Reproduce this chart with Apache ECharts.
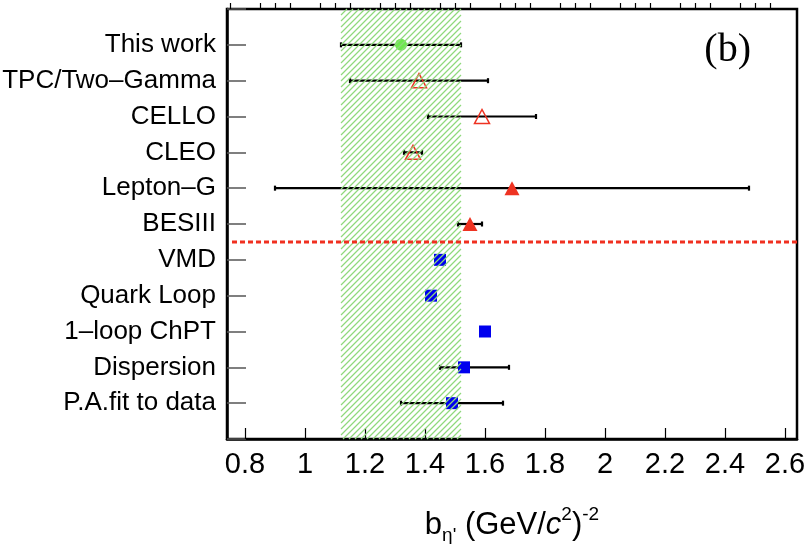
<!DOCTYPE html>
<html>
<head>
<meta charset="utf-8">
<script src="https://cdn.jsdelivr.net/npm/echarts@6/dist/echarts.min.js"></script>
<style>html,body{margin:0;padding:0;background:#fff}#c{width:811px;height:544px}</style>
</head>
<body>
<div id="c"></div>
<script>
// ---- data ----
const categories = ['This work','TPC/Two\u2013Gamma','CELLO','CLEO','Lepton\u2013G','BESIII','VMD','Quark Loop','1\u2013loop ChPT','Dispersion','P.A.fit to data'];
const centralValues = [1.32, 1.38, 1.59, 1.36, 1.69, 1.55, 1.45, 1.42, 1.60, 1.53, 1.49];
const errLow  = [1.12, 1.15, 1.41, 1.33, 0.90, 1.51, null, null, null, 1.45, 1.32];
const errHigh = [1.52, 1.61, 1.77, 1.39, 2.48, 1.59, null, null, null, 1.68, 1.66];
const thisWorkRows = [0];
const openTriangleRows = [1, 2, 3];
const filledTriangleRows = [4, 5];
const theoryRows = [6, 7, 8, 9, 10];
const bandRange = [1.12, 1.52];
const separatorAfterRow = 5; // dashed line between BESIII and VMD
const xMajorTicks = [0.8, 1.0, 1.2, 1.4, 1.6, 1.8, 2.0, 2.2, 2.4, 2.6];
const xMin = 0.74, xMax = 2.64;

// minor ticks (4 subdivisions between majors)
const xMinorTicks = [];
for (let i = -1; i < xMajorTicks.length; i++) {
  const a = i < 0 ? xMajorTicks[0] - 0.2 : xMajorTicks[i];
  for (let k = 1; k < 4; k++) {
    const v = +(a + k * 0.05).toFixed(3);
    if (v > xMin && v < xMax) xMinorTicks.push(v);
  }
}

function rowData(rows) { return rows.map(r => [centralValues[r], r + 1]); }
const errData = [];
categories.forEach((c, i) => { if (errLow[i] != null) errData.push([errLow[i], errHigh[i], i + 1]); });

const chart = echarts.init(document.getElementById('c'), null, {renderer: 'canvas'});
const font = 'Liberation Sans';
const option = {
  animation: false,
  grid: {left: 227, right: 14, top: 9, bottom: 105, show: true, borderColor: '#000', borderWidth: 2.5,
    backgroundColor: 'transparent', outerBoundsMode: 'none', containLabel: false},
  xAxis: [{
    type: 'value', min: xMin, max: xMax, position: 'bottom',
    axisLine: {show: true, onZero: false, lineStyle: {color: '#000', width: 2.5}},
    axisTick: {show: true, inside: true, length: 11, customValues: xMajorTicks, lineStyle: {color: '#000', width: 1.2}},
    axisLabel: {show: true, customValues: xMajorTicks, margin: 11, color: '#000', fontFamily: font, fontSize: 29,
      formatter: v => String(+v.toFixed(2))},
    splitLine: {show: false},
    name: '{b|b}{sub|\u03b7\'}{b| (GeV/}{i|c}{sup|2}{b|)}{sup|-2}',
    nameLocation: 'middle', nameGap: 66,
    nameTextStyle: {
      rich: {
        b: {fontFamily: font, fontSize: 31, color: '#000', lineHeight: 40},
        i: {fontFamily: font, fontSize: 31, fontStyle: 'italic', color: '#000', lineHeight: 40},
        sub: {fontFamily: font, fontSize: 19, color: '#000', verticalAlign: 'bottom', lineHeight: 18},
        sup: {fontFamily: font, fontSize: 19, color: '#000', verticalAlign: 'top', lineHeight: 26}
      }
    }
  }, {
    type: 'value', min: xMin, max: xMax, position: 'bottom',
    axisLine: {show: false},
    axisTick: {show: true, inside: true, length: 6, customValues: xMinorTicks, lineStyle: {color: '#000', width: 1.2}},
    axisLabel: {show: false},
    splitLine: {show: false}
  }],
  yAxis: {
    type: 'value', inverse: true, min: 0, max: categories.length + 1, interval: 1,
    axisLine: {show: true, lineStyle: {color: '#000', width: 2.5}},
    axisTick: {show: true, inside: true, length: 19, lineStyle: {color: '#555', width: 1.5}},
    axisLabel: {show: true, margin: 11, color: '#000', fontFamily: font, fontSize: 26,
      formatter: v => categories[v - 1] || ''},
    splitLine: {show: false}
  },
  series: [
    {
      type: 'custom', name: 'errors', xAxisIndex: 0, z: 2,
      data: errData,
      renderItem: (params, api) => {
        const p1 = api.coord([api.value(0), api.value(2)]);
        const p2 = api.coord([api.value(1), api.value(2)]);
        const st = {stroke: '#000', lineWidth: 2.2};
        return {type: 'group', children: [
          {type: 'line', shape: {x1: p1[0], y1: p1[1], x2: p2[0], y2: p2[1]}, style: st},
          {type: 'line', shape: {x1: p1[0], y1: p1[1] - 2.5, x2: p1[0], y2: p1[1] + 2.5}, style: st},
          {type: 'line', shape: {x1: p2[0], y1: p2[1] - 2.5, x2: p2[0], y2: p2[1] + 2.5}, style: st}
        ]};
      }
    },
    {type: 'scatter', name: 'This work', data: rowData(thisWorkRows), symbol: 'circle', symbolSize: 12, z: 3,
      itemStyle: {color: '#6ee84e', opacity: 1}},
    {type: 'scatter', name: 'open', data: rowData(openTriangleRows), symbol: 'triangle', symbolSize: [15, 14], z: 3,
      itemStyle: {color: 'rgba(255,255,255,0)', borderColor: '#ee3322', borderWidth: 1.5, opacity: 1}},
    {type: 'scatter', name: 'filled', data: rowData(filledTriangleRows), symbol: 'triangle', symbolSize: [15, 14], z: 3,
      itemStyle: {color: '#ee3322', opacity: 1}},
    {type: 'scatter', name: 'theory', data: rowData(theoryRows), symbol: 'rect', symbolSize: 12, z: 3,
      itemStyle: {color: '#0000ee', opacity: 1}},
    {
      type: 'custom', name: 'band', z: 4, silent: true, color: '#8fd97c',
      data: [[bandRange[0], bandRange[1]]],
      renderItem: (params, api) => {
        const a = api.coord([api.value(0), categories.length + 1]);
        const b = api.coord([api.value(1), 0]);
        const xa = Math.round(a[0]), xb = Math.round(b[0]), yb = Math.round(a[1]), yt = Math.round(b[1]);
        const H = yb - yt, step = 6;
        let d = '';
        for (let s = xa - H; s < xb; s += step) {
          const t0 = Math.max(0, xa - s), t1 = Math.min(H, xb - s);
          if (t1 <= t0) continue;
          d += 'M' + (s + t0) + ' ' + (yb - t0) + 'L' + (s + t1) + ' ' + (yb - t1);
        }
        return {type: 'path', shape: {pathData: d},
          style: {stroke: '#8fd97c', fill: 'none', lineWidth: 1.15, opacity: 1}};
      }
    },
    {
      type: 'custom', name: 'separator', z: 5, silent: true,
      data: [[separatorAfterRow + 1.5]],
      renderItem: (params, api) => {
        const p = api.coord([xMin, api.value(0)]);
        const q = api.coord([xMax, api.value(0)]);
        return {type: 'line', shape: {x1: p[0] + 5, y1: p[1], x2: q[0], y2: q[1]},
          style: {stroke: '#f03020', lineWidth: 3, lineDash: [5, 3]}};
      }
    }
  ],
  graphic: [{
    type: 'text', right: 60, top: 30, z: 10,
    style: {text: '(b)', font: '40px "Liberation Serif"', fill: '#000'}
  }]
};
chart.setOption(option);
</script>
</body>
</html>
